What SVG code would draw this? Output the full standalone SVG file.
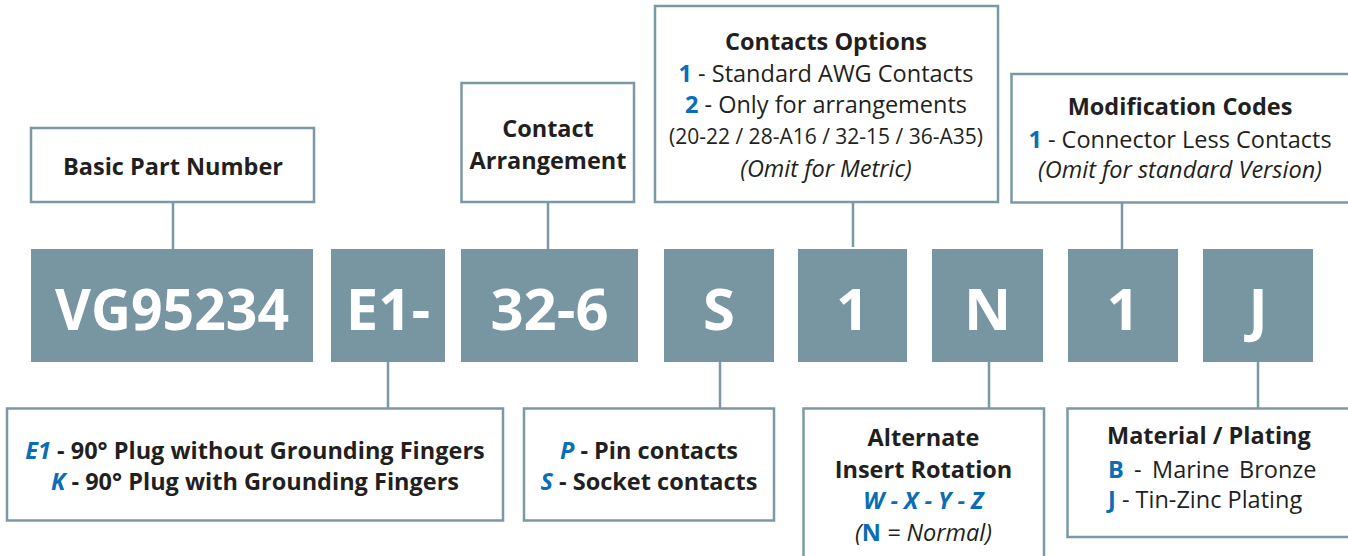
<svg xmlns="http://www.w3.org/2000/svg" width="1348" height="556" viewBox="0 0 1348 556">
<style>
.box{fill:#fff;stroke:#7b98a5;stroke-width:2.5}
.code{fill:#7895a2}
.ln{stroke:#7b98a5;stroke-width:2.5;fill:none}
text{font-family:"Open Sans","Noto Sans",sans-serif;fill:#231f20;text-anchor:middle}
.big{font-size:58px;font-weight:700;fill:#fff}
.h{font-size:23.5px;font-weight:700}
.r{font-size:23.5px}
.s{font-size:21px}
.i{font-style:italic}
.L{text-anchor:start}
.b{fill:#0b6db5;font-weight:700}
.bi{fill:#0b6db5;font-weight:700;font-style:italic}
</style>
<g id="connectors">
<line class="ln" x1="173" y1="202" x2="173" y2="249"/>
<line class="ln" x1="548" y1="202" x2="548" y2="249"/>
<line class="ln" x1="853" y1="202" x2="853" y2="247"/>
<line class="ln" x1="1122" y1="203" x2="1122" y2="249"/>
<line class="ln" x1="388" y1="362" x2="388" y2="408"/>
<line class="ln" x1="720" y1="362" x2="720" y2="408"/>
<line class="ln" x1="989" y1="362" x2="989" y2="408"/>
<line class="ln" x1="1258" y1="362" x2="1258" y2="408"/>
</g>
<g id="code-vg95234"><rect class="code" x="31" y="249" width="282" height="113"/><text class="big" x="172" y="330" textLength="234" lengthAdjust="spacingAndGlyphs">VG95234</text></g>
<g id="code-e1"><rect class="code" x="331" y="249" width="114" height="113"/><text class="big" x="388" y="330">E1-</text></g>
<g id="code-326"><rect class="code" x="461" y="249" width="177" height="113"/><text class="big" x="549.5" y="330">32-6</text></g>
<g id="code-s"><rect class="code" x="664" y="249" width="110" height="113"/><text class="big" x="719" y="330">S</text></g>
<g id="code-1a"><rect class="code" x="798" y="249" width="109" height="113"/><text class="big" x="852.5" y="330">1</text></g>
<g id="code-n"><rect class="code" x="932" y="249" width="111" height="113"/><text class="big" x="987.5" y="330">N</text></g>
<g id="code-1b"><rect class="code" x="1068" y="249" width="110" height="113"/><text class="big" x="1123" y="330">1</text></g>
<g id="code-j"><rect class="code" x="1203" y="249" width="110" height="113"/><text class="big" x="1258" y="330">J</text></g>

<g id="basic-part-number"><rect class="box" x="31" y="128" width="283" height="74"/><text class="h" x="173" y="175">Basic Part Number</text></g>
<g id="contact-arrangement"><rect class="box" x="461.5" y="83" width="172.5" height="119"/><text class="h" x="548" y="137">Contact</text><text class="h" x="548" y="169">Arrangement</text></g>
<g id="contacts-options"><rect class="box" x="655" y="6" width="343" height="196"/>
<text class="h" x="826" y="50">Contacts Options</text>
<text class="r" x="826" y="82"><tspan class="b">1</tspan> - Standard AWG Contacts</text>
<text class="r" x="826" y="113"><tspan class="b">2</tspan> - Only for arrangements</text>
<text class="s" x="826" y="144">(20-22 / 28-A16 / 32-15 / 36-A35)</text>
<text class="r i" x="826" y="177">(Omit for Metric)</text></g>
<g id="modification-codes"><rect class="box" x="1011.5" y="74" width="340" height="128.5"/>
<text class="h" x="1180" y="115">Modification Codes</text>
<text class="r" x="1180" y="148"><tspan class="b">1</tspan> - Connector Less Contacts</text>
<text class="r i" x="1180" y="178">(Omit for standard Version)</text></g>

<g id="type-options"><rect class="box" x="7" y="408.5" width="496" height="112"/>
<text class="h" x="255" y="459"><tspan class="bi">E1</tspan> - 90° Plug without Grounding Fingers</text>
<text class="h" x="255" y="490"><tspan class="bi">K</tspan> - 90° Plug with Grounding Fingers</text></g>
<g id="contact-type"><rect class="box" x="524" y="408.5" width="250" height="112"/>
<text class="h" x="649" y="459"><tspan class="bi">P</tspan> - Pin contacts</text>
<text class="h" x="649" y="490"><tspan class="bi">S</tspan> - Socket contacts</text></g>
<g id="insert-rotation"><rect class="box" x="803.5" y="408.5" width="240.5" height="160"/>
<text class="h" x="923.5" y="446">Alternate</text>
<text class="h" x="923.5" y="478">Insert Rotation</text>
<text class="h bi" x="923.5" y="509">W - X - Y - Z</text>
<text class="r i" x="923.5" y="541">(<tspan class="b" font-style="normal">N</tspan> = Normal)</text></g>
<g id="material-plating"><rect class="box" x="1067.5" y="408.5" width="290" height="128.5"/>
<text class="h L" x="1107" y="444">Material / Plating</text>
<text class="r L" x="1108" y="478"><tspan class="b">B</tspan><tspan x="1134">-</tspan><tspan x="1152">Marine</tspan><tspan x="1239">Bronze</tspan></text>
<text class="r L" x="1108" y="508"><tspan class="b">J</tspan> - Tin-Zinc Plating</text></g>
</svg>
